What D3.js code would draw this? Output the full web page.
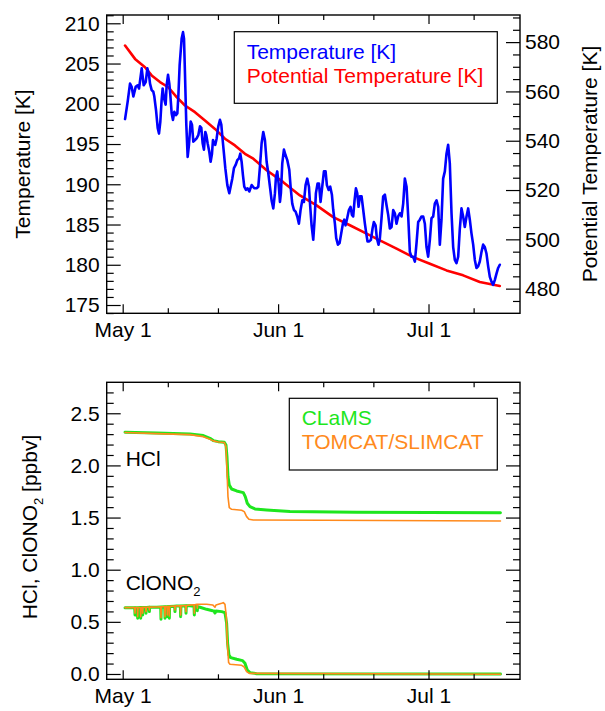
<!DOCTYPE html>
<html><head><meta charset="utf-8">
<script src="https://cdn.jsdelivr.net/npm/d3@7"></script>
<style>body{margin:0;background:#fff}</style>
</head><body><svg id="c" width="605" height="711"></svg>
<script>
// ---------- DATA (days since May 1) ----------
const xMajorTicks = [0, 31, 61];
const xTickLabels = ["May 1", "Jun 1", "Jul 1"];
const xMinorTicks = [9, 19, 40, 50, 70];
const tempTicks = [175, 180, 185, 190, 195, 200, 205, 210];
const thetaTicks = [480, 500, 520, 540, 560, 580];
const chemTicks = [0.0, 0.5, 1.0, 1.5, 2.0, 2.5];

const tempDays = [0.47,1.00,1.46,1.79,2.13,2.59,2.99,3.26,3.79,4.19,4.59,4.92,5.25,5.45,5.78,6.11,6.31,6.65,6.98,7.24,7.51,7.77,7.97,8.24,8.57,8.77,9.04,9.30,9.50,9.77,10.03,10.30,10.63,10.90,11.10,11.36,11.76,12.03,12.23,12.43,12.69,12.96,13.22,13.56,13.82,14.09,14.42,14.75,15.08,15.42,15.68,15.95,16.21,16.48,16.68,16.94,17.28,17.54,17.81,18.01,18.21,18.47,18.74,19.07,19.40,19.67,19.94,20.20,20.47,20.87,21.26,21.60,21.86,22.19,22.53,22.86,23.19,23.46,23.72,23.99,24.25,24.59,24.92,25.25,25.72,26.25,26.71,27.05,27.38,27.71,28.04,28.37,28.71,29.04,29.37,29.70,30.04,30.37,30.57,30.83,31.10,31.37,31.56,31.83,32.16,32.49,32.83,33.23,33.49,33.82,34.16,34.49,34.82,35.15,35.48,35.82,36.15,36.48,36.81,37.15,37.41,37.68,38.01,38.28,38.54,38.87,39.14,39.47,39.80,40.14,40.47,40.73,41.07,41.40,41.73,42.00,42.33,42.59,42.93,43.26,43.59,43.92,44.19,44.46,44.79,45.12,45.45,45.72,45.98,46.25,46.52,46.78,47.05,47.31,47.65,47.98,48.31,48.58,48.84,49.17,49.51,49.84,50.10,50.44,50.70,51.03,51.30,51.63,51.96,52.30,52.63,52.96,53.29,53.63,53.96,54.29,54.62,54.95,55.29,55.62,55.95,56.28,56.62,56.95,57.28,57.61,57.94,58.28,58.61,58.94,59.27,59.61,59.94,60.27,60.60,60.93,61.27,61.60,61.93,62.26,62.60,62.93,63.26,63.59,63.92,64.26,64.59,64.92,65.25,65.59,65.92,66.25,66.58,66.92,67.25,67.58,67.91,68.24,68.58,68.91,69.24,69.57,69.91,70.24,70.57,70.90,71.23,71.57,71.90,72.23,72.56,72.90,73.23,73.56,73.89,74.22,74.56,74.89,75.22];
const tempK = [198.1,200.3,202.5,202.1,200.9,202.1,202.3,201.9,204.4,202.3,202.7,204.4,203.6,202.5,201.7,201.5,200.9,199.2,197.0,196.3,197.8,200.5,201.9,200.7,199.9,202.3,203.6,202.5,201.1,198.8,198.0,199.0,198.6,198.8,200.9,204.8,208.1,208.9,208.1,203.6,197.4,193.4,194.9,197.8,197.4,195.3,195.5,195.7,196.1,197.2,197.0,195.1,194.3,196.5,196.1,195.1,194.0,192.8,193.8,195.5,195.1,194.9,195.7,197.2,198.0,197.4,195.5,193.8,192.0,189.9,188.9,189.9,190.7,192.0,192.4,193.0,193.2,193.8,192.8,191.1,189.7,189.3,189.5,189.1,189.9,189.5,189.5,189.7,192.2,195.1,196.5,195.5,192.8,191.4,189.7,188.0,187.0,188.9,190.9,191.6,190.1,187.8,188.9,192.6,194.3,193.6,193.0,191.8,189.7,187.6,186.8,186.6,186.0,185.1,186.8,188.0,187.8,189.9,190.7,189.7,187.2,184.9,183.1,185.6,188.9,190.1,190.1,187.8,189.7,191.6,191.6,189.9,189.3,189.7,188.7,186.8,185.1,183.3,182.5,182.7,183.9,185.1,185.6,184.9,185.8,186.8,187.2,186.2,186.0,188.0,189.5,188.9,187.2,188.5,188.5,186.8,185.1,183.9,182.9,182.9,183.1,184.5,185.3,184.9,183.3,182.5,183.3,185.8,188.5,188.7,187.4,186.2,184.5,184.7,186.8,186.4,185.1,186.0,186.4,186.0,187.6,190.7,189.7,186.0,181.6,181.0,181.0,180.4,182.7,185.3,185.6,186.0,186.0,185.1,182.2,181.0,183.1,185.8,186.0,187.6,188.0,187.2,182.5,185.6,190.7,191.6,193.8,194.9,192.6,186.4,182.2,180.6,180.2,181.0,184.5,187.0,186.0,184.7,186.0,187.0,185.6,183.9,182.5,180.6,179.6,179.8,180.4,181.6,182.5,182.2,181.4,179.8,178.5,177.9,177.5,178.1,178.9,179.6,180.0];

const thetaDays = [0.47,2.46,4.45,5.78,7.44,9.10,10.77,12.43,14.42,16.41,18.41,20.40,22.39,24.39,26.05,28.71,32.03,35.35,38.67,41.99,45.32,48.64,51.30,54.62,57.94,61.27,64.59,67.91,71.23,75.22];
const thetaK = [578.6,573.2,569.8,566.5,563.8,561.7,557.7,554.3,551.6,548.2,544.8,540.8,538.1,534.7,532.7,528.0,523.2,517.8,513.8,509.0,505.7,502.3,499.6,496.2,492.8,490.1,487.4,485.4,482.7,481.1];

const hclClamsDays = [0.47,6.78,13.42,16.08,17.41,18.07,19.07,20.27,20.60,20.80,21.00,21.26,21.73,22.73,24.06,24.45,24.85,25.38,26.38,28.71,33.36,46.65,75.35];
const hclClams = [2.318,2.311,2.302,2.286,2.260,2.238,2.228,2.222,2.196,2.084,1.893,1.813,1.774,1.755,1.739,1.701,1.637,1.605,1.583,1.573,1.557,1.551,1.547];
const hclTomcatDays = [0.47,6.78,13.42,16.08,17.41,18.07,19.07,20.27,20.60,20.80,21.00,21.26,21.73,23.72,24.25,24.72,25.18,26.05,40.00,75.35];
const hclTomcat = [2.315,2.305,2.295,2.276,2.251,2.235,2.225,2.219,2.180,1.957,1.701,1.595,1.579,1.570,1.557,1.509,1.483,1.477,1.474,1.467];

const clonoClamsDays = [0.47,2.40,2.46,2.52,2.93,2.99,3.05,3.53,3.59,3.65,3.93,3.99,4.05,4.59,4.65,4.71,5.26,5.32,5.38,6.78,7.58,7.64,7.70,8.38,8.44,8.50,8.84,8.90,8.96,9.24,9.30,9.36,10.37,10.43,10.49,10.77,11.50,11.56,11.62,12.57,12.63,12.69,13.42,14.23,14.29,14.35,14.83,14.89,14.95,15.42,16.75,17.94,18.21,18.41,18.61,19.74,20.40,20.73,20.93,21.20,21.53,22.73,23.92,24.39,24.85,25.38,26.71,75.35];
const clonoClams = [0.636,0.636,0.566,0.636,0.635,0.534,0.635,0.637,0.534,0.637,0.638,0.566,0.638,0.638,0.582,0.638,0.639,0.598,0.639,0.640,0.642,0.524,0.642,0.644,0.534,0.644,0.645,0.550,0.645,0.646,0.534,0.646,0.650,0.598,0.650,0.652,0.652,0.550,0.652,0.654,0.582,0.654,0.655,0.650,0.566,0.650,0.646,0.607,0.645,0.640,0.620,0.607,0.605,0.585,0.603,0.598,0.588,0.486,0.294,0.182,0.157,0.141,0.128,0.102,0.038,0.013,0.003,0.000];
const clonoTomcatDays = [0.47,2.40,2.46,2.52,2.93,2.99,3.05,3.53,3.59,3.65,3.93,3.99,4.05,4.59,4.65,4.71,5.26,5.32,5.38,6.78,7.58,7.64,7.70,8.38,8.44,8.50,8.84,8.90,8.96,9.24,9.30,9.36,10.37,10.43,10.49,10.77,11.50,11.56,11.62,12.57,12.63,12.69,13.42,14.23,14.29,14.35,14.83,14.89,14.95,15.42,16.75,17.94,18.21,18.41,18.61,19.74,20.07,20.40,20.67,20.87,21.13,21.40,23.72,24.19,24.72,25.25,75.35];
const clonoTomcat = [0.636,0.637,0.582,0.637,0.637,0.550,0.637,0.638,0.550,0.638,0.639,0.582,0.639,0.640,0.598,0.640,0.641,0.614,0.641,0.642,0.644,0.540,0.644,0.646,0.550,0.646,0.647,0.566,0.647,0.648,0.556,0.648,0.652,0.614,0.652,0.653,0.654,0.566,0.654,0.656,0.598,0.656,0.660,0.664,0.582,0.664,0.668,0.630,0.668,0.668,0.668,0.662,0.650,0.640,0.662,0.678,0.684,0.668,0.550,0.294,0.109,0.093,0.083,0.070,0.022,0.006,-0.003];

// ---------- LAYOUT ----------
const svg = d3.select("#c");
const FONT = "'Liberation Sans', Arial, Helvetica, sans-serif";
const FS = 21;
const L = 106.7, R = 520;
const P1 = {top: 15, bot: 313.3};
const P2 = {top: 382.3, bot: 679.3};

const x1 = d3.scaleLinear().domain([-3.19, 79.25]).range([L, R]);
const yT = d3.scaleLinear().domain([173.97, 211.03]).range([P1.bot, P1.top]);
const yTh = d3.scaleLinear().domain([470, 591]).range([P1.bot, P1.top]);
const yC = d3.scaleLinear().domain([-0.051, 2.797]).range([P2.bot, P2.top]);

function styleAxis(g) {
  g.select(".domain").remove();
  g.attr("font-size", FS).attr("font-family", FONT);
  g.selectAll(".tick line").attr("stroke", "#000").attr("stroke-width", 1.2);
  g.selectAll(".tick text").attr("fill", "#000");
}
function addAxis(gen, tx, ty) {
  const g = svg.append("g").attr("transform", `translate(${tx},${ty})`).call(gen);
  styleAxis(g);
  return g;
}

function panel(P, yScale, yMajor, yMinor, yFmt, rightScale, rMajor, rMinor) {
  // x axes
  addAxis(d3.axisBottom(x1).tickValues(xMajorTicks).tickFormat((d,i)=>xTickLabels[i]).tickSize(-9).tickPadding(9), 0, P.bot);
  addAxis(d3.axisBottom(x1).tickValues(xMinorTicks).tickFormat("").tickSize(-5), 0, P.bot);
  addAxis(d3.axisTop(x1).tickValues(xMajorTicks).tickFormat("").tickSize(-9), 0, P.top);
  addAxis(d3.axisTop(x1).tickValues(xMinorTicks).tickFormat("").tickSize(-5), 0, P.top);
  // left y
  addAxis(d3.axisLeft(yScale).tickValues(yMajor).tickFormat(yFmt).tickSize(-14).tickPadding(7), L, 0);
  addAxis(d3.axisLeft(yScale).tickValues(yMinor).tickFormat("").tickSize(-7), L, 0);
  // right y
  if (rightScale) {
    addAxis(d3.axisRight(rightScale).tickValues(rMajor).tickFormat(d3.format("d")).tickSize(-14).tickPadding(5), R, 0);
    addAxis(d3.axisRight(rightScale).tickValues(rMinor).tickFormat("").tickSize(-7), R, 0);
  } else {
    addAxis(d3.axisRight(yScale).tickValues(yMajor).tickFormat("").tickSize(-14), R, 0);
    addAxis(d3.axisRight(yScale).tickValues(yMinor).tickFormat("").tickSize(-7), R, 0);
  }
  svg.append("rect").attr("x", L).attr("y", P.top).attr("width", R - L).attr("height", P.bot - P.top)
    .attr("fill", "none").attr("stroke", "#000").attr("stroke-width", 1.4);
}

// clip paths
const defs = svg.append("defs");
defs.append("clipPath").attr("id", "clip1").append("rect").attr("x", L).attr("y", P1.top).attr("width", R-L).attr("height", P1.bot-P1.top);
defs.append("clipPath").attr("id", "clip2").append("rect").attr("x", L).attr("y", P2.top).attr("width", R-L).attr("height", P2.bot-P2.top);

function drawLine(days, vals, yScale, color, width, clip) {
  const pts = days.map((d, i) => [d, vals[i]]);
  svg.append("path").datum(pts)
    .attr("clip-path", `url(#${clip})`)
    .attr("fill", "none").attr("stroke", color).attr("stroke-width", width)
    .attr("stroke-linejoin", "round").attr("stroke-linecap", "round")
    .attr("d", d3.line().x(p => x1(p[0])).y(p => yScale(p[1])));
}

// ---------- TOP PANEL ----------
const tempMinor = d3.range(174, 212).filter(v => v % 5 !== 0);
const thetaMinor = [475,485,490,495,505,510,515,525,530,535,545,550,555,565,570,575,585,590];
drawLine(thetaDays, thetaK, yTh, "#ff0000", 2.6, "clip1");
drawLine(tempDays, tempK, yT, "#0000ff", 2.6, "clip1");
panel(P1, yT, tempTicks, tempMinor, d3.format("d"), yTh, thetaTicks, thetaMinor);

// legend top
svg.append("rect").attr("x", 234.3).attr("y", 31.7).attr("width", 263).attr("height", 71.6)
  .attr("fill", "none").attr("stroke", "#000").attr("stroke-width", 1.2);
svg.append("text").attr("x", 246.7).attr("y", 59.4).attr("fill", "#0000ff")
  .attr("font-family", FONT).attr("font-size", FS).text("Temperature [K]");
svg.append("text").attr("x", 246.7).attr("y", 82.8).attr("fill", "#ff0000")
  .attr("font-family", FONT).attr("font-size", FS).text("Potential Temperature [K]");

// axis titles top
svg.append("text").attr("transform", "translate(30,164) rotate(-90)").attr("text-anchor", "middle")
  .attr("font-family", FONT).attr("font-size", FS).text("Temperature [K]");
svg.append("text").attr("transform", "translate(597,164) rotate(-90)").attr("text-anchor", "middle")
  .attr("font-family", FONT).attr("font-size", FS).text("Potential Temperature [K]");

// ---------- BOTTOM PANEL ----------
const chemMinor = d3.range(0, 28).map(v => v / 10).filter(v => Math.round(v * 10) % 5 !== 0);
drawLine(hclClamsDays, hclClams, yC, "#1ee61e", 3, "clip2");
drawLine(clonoClamsDays, clonoClams, yC, "#1ee61e", 3, "clip2");
drawLine(hclTomcatDays, hclTomcat, yC, "#ff8a1c", 1.6, "clip2");
drawLine(clonoTomcatDays, clonoTomcat, yC, "#ff8a1c", 1.6, "clip2");
panel(P2, yC, chemTicks, chemMinor, d3.format(".1f"), null);

// legend bottom
svg.append("rect").attr("x", 289.3).attr("y", 398.3).attr("width", 208).attr("height", 71.7)
  .attr("fill", "none").attr("stroke", "#000").attr("stroke-width", 1.2);
svg.append("text").attr("x", 301.7).attr("y", 425).attr("fill", "#1ee61e")
  .attr("font-family", FONT).attr("font-size", FS).text("CLaMS");
svg.append("text").attr("x", 301.7).attr("y", 449).attr("fill", "#ff8a1c")
  .attr("font-family", FONT).attr("font-size", FS).text("TOMCAT/SLIMCAT");

// species labels
svg.append("text").attr("x", 125.7).attr("y", 465.7).attr("font-family", FONT).attr("font-size", FS).text("HCl");
const cl = svg.append("text").attr("x", 125.7).attr("y", 590).attr("font-family", FONT).attr("font-size", FS);
cl.append("tspan").text("ClONO");
cl.append("tspan").attr("font-size", 13).attr("dy", 6).text("2");

// y title bottom
const yt = svg.append("text").attr("transform", "translate(37,527) rotate(-90)").attr("text-anchor", "middle")
  .attr("font-family", FONT).attr("font-size", FS);
yt.append("tspan").text("HCl, ClONO");
yt.append("tspan").attr("font-size", 13).attr("dy", 6).text("2");
yt.append("tspan").attr("dy", -6).text(" [ppbv]");
</script>
</body></html>
